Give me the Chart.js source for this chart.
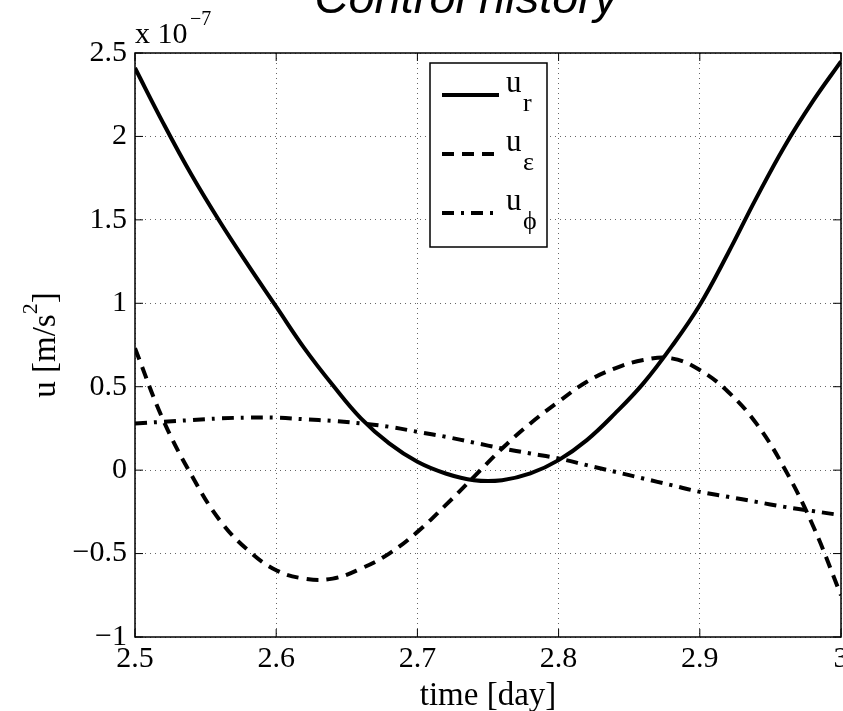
<!DOCTYPE html>
<html>
<head>
<meta charset="utf-8">
<script src="https://cdn.jsdelivr.net/npm/chart.js@4.4.1/dist/chart.umd.min.js"></script>
<style>
  body { margin: 0; background: #fff; }
  canvas { display: block; }
</style>
</head>
<body>
<canvas id="chart" width="843" height="711"></canvas>
<script>
// time in days, control values in units of 1e-7 m/s^2
const timeDays = [2.50, 2.52, 2.54, 2.56, 2.58, 2.60, 2.62, 2.64, 2.66, 2.68, 2.70, 2.72, 2.74,
                  2.76, 2.78, 2.80, 2.82, 2.84, 2.86, 2.88, 2.90, 2.92, 2.94, 2.96, 2.98, 3.00];
const uR   = [2.41, 2.08, 1.77, 1.49, 1.23, 0.98, 0.73, 0.51, 0.31, 0.16, 0.05, -0.02, -0.06,
              -0.06, -0.02, 0.06, 0.18, 0.34, 0.52, 0.74, 0.99, 1.30, 1.63, 1.94, 2.21, 2.45];
const uEps = [0.73, 0.30, -0.03, -0.30, -0.48, -0.60, -0.65, -0.65, -0.59, -0.50, -0.37, -0.21, -0.04,
              0.13, 0.28, 0.41, 0.53, 0.61, 0.66, 0.67, 0.60, 0.47, 0.28, 0.01, -0.33, -0.75];
const uPhi = [0.28, 0.29, 0.30, 0.31, 0.315, 0.315, 0.305, 0.295, 0.28, 0.26, 0.23, 0.20, 0.165,
              0.13, 0.10, 0.07, 0.03, -0.01, -0.05, -0.09, -0.13, -0.16, -0.19, -0.22, -0.245, -0.27];
const xTicks = [2.5, 2.6, 2.7, 2.8, 2.9, 3];
const yTicks = [-1, -0.5, 0, 0.5, 1, 1.5, 2, 2.5];
const seriesNames = ["r", "\u03b5", "\u03d5"];

function points(ys) {
    return timeDays.map(function (t, i) { return { x: t, y: ys[i] }; });
}

function line(ctx, x1, y1, x2, y2) {
    ctx.beginPath();
    ctx.moveTo(x1, y1);
    ctx.lineTo(x2, y2);
    ctx.stroke();
}

const serif = '"Liberation Serif", "Times New Roman", serif';

// frame, inward ticks, titles and the legend with subscripts
const decorations = {
    id: "decorations",
    afterDraw(chart) {
        const ctx = chart.ctx;
        const a = chart.chartArea;
        const xs = chart.scales.x, ys = chart.scales.y;
        ctx.save();
        ctx.strokeStyle = "#000";
        ctx.fillStyle = "#000";
        ctx.lineWidth = 1.5;
        ctx.strokeRect(a.left, a.top, a.right - a.left, a.bottom - a.top);

        ctx.lineWidth = 1;
        xTicks.forEach(function (v) {
            let px = xs.getPixelForValue(v);
            line(ctx, px, a.bottom, px, a.bottom - 8);
            line(ctx, px, a.top, px, a.top + 8);
        });
        yTicks.forEach(function (v) {
            let py = ys.getPixelForValue(v);
            line(ctx, a.left, py, a.left + 8, py);
            line(ctx, a.right, py, a.right - 8, py);
        });

        // title (partly cut off at the top, as in the original)
        ctx.font = 'italic 47px "Liberation Sans", Arial, sans-serif';
        ctx.textAlign = "center";
        ctx.textBaseline = "alphabetic";
        ctx.fillText("Control history", 466, 13);

        // exponent label
        ctx.textAlign = "left";
        ctx.font = "30px " + serif;
        ctx.fillText("x 10", 135, 43);
        ctx.font = "20px " + serif;
        ctx.fillText("\u22127", 190, 25);

        // x axis title
        ctx.textAlign = "center";
        ctx.font = "33px " + serif;
        ctx.fillText("time [day]", (a.left + a.right) / 2, 705);

        // y axis title, rotated
        ctx.save();
        ctx.translate(55, (a.top + a.bottom) / 2);
        ctx.rotate(-Math.PI / 2);
        ctx.textAlign = "left";
        ctx.font = "33px " + serif;
        let p1 = "u [m/s";
        let w1 = ctx.measureText(p1).width;
        ctx.font = "22px " + serif;
        let w2 = ctx.measureText("2").width;
        ctx.font = "33px " + serif;
        let w3 = ctx.measureText("]").width;
        let x0 = -(w1 + w2 + w3) / 2;
        ctx.fillText(p1, x0, 0);
        ctx.font = "22px " + serif;
        ctx.fillText("2", x0 + w1, -18);
        ctx.font = "33px " + serif;
        ctx.fillText("]", x0 + w1 + w2, 0);
        ctx.restore();

        // legend
        ctx.fillStyle = "#fff";
        ctx.fillRect(430, 63, 117, 184);
        ctx.lineWidth = 1.5;
        ctx.strokeRect(430, 63, 117, 184);
        ctx.fillStyle = "#000";
        chart.data.datasets.forEach(function (ds, i) {
            let ly = 95 + 59 * i;
            ctx.lineWidth = ds.borderWidth;
            ctx.setLineDash(ds.borderDash || []);
            line(ctx, 442, ly, 499, ly);
            ctx.setLineDash([]);
            ctx.textAlign = "left";
            ctx.font = "31px " + serif;
            ctx.fillText("u", 506, ly - 3);
            ctx.font = "26px " + serif;
            ctx.fillText(seriesNames[i], 523, ly + 16);
        });
        ctx.restore();
    }
};

new Chart(document.getElementById("chart").getContext("2d"), {
    type: "line",
    data: {
        datasets: [
            { label: "u_r", data: points(uR), borderColor: "#000", borderWidth: 4, borderDash: [] },
            { label: "u_eps", data: points(uEps), borderColor: "#000", borderWidth: 4, borderDash: [12, 8] },
            { label: "u_phi", data: points(uPhi), borderColor: "#000", borderWidth: 4, borderDash: [12, 7, 3, 7] }
        ]
    },
    options: {
        responsive: false,
        animation: false,
        parsing: false,
        elements: {
            point: { radius: 0 },
            line: { tension: 0.4, fill: false }
        },
        layout: { padding: { top: 53, right: 2, left: 0, bottom: 0 } },
        plugins: {
            legend: { display: false },
            tooltip: { enabled: false }
        },
        scales: {
            x: {
                type: "linear",
                min: 2.5,
                max: 3,
                afterBuildTicks: function (scale) {
                    scale.ticks = xTicks.map(function (v) { return { value: v }; });
                },
                afterFit: function (scale) {
                    scale.height = 74;
                    scale.paddingLeft = 0;
                    scale.paddingRight = 0;
                },
                grid: { color: "rgba(0,0,0,0.6)", lineWidth: 1, drawTicks: false },
                border: { display: false, dash: [1, 4] },
                ticks: {
                    autoSkip: false,
                    maxRotation: 0,
                    padding: 4,
                    color: "#000",
                    font: { family: "Liberation Serif", size: 30 },
                    callback: function (v) { return String(Number(v.toFixed(1))); }
                }
            },
            y: {
                type: "linear",
                min: -1,
                max: 2.5,
                afterBuildTicks: function (scale) {
                    scale.ticks = yTicks.map(function (v) { return { value: v }; });
                },
                afterFit: function (scale) {
                    scale.width = 135;
                    scale.paddingTop = 0;
                    scale.paddingBottom = 0;
                },
                grid: { color: "rgba(0,0,0,0.6)", lineWidth: 1, drawTicks: false },
                border: { display: false, dash: [1, 4] },
                ticks: {
                    padding: 8,
                    color: "#000",
                    font: { family: "Liberation Serif", size: 30 },
                    callback: function (v) {
                        let s = String(Number(v.toFixed(1)));
                        return v < 0 ? "\u2212" + s.slice(1) : s;
                    }
                }
            }
        }
    },
    plugins: [decorations]
});
</script>
</body>
</html>
